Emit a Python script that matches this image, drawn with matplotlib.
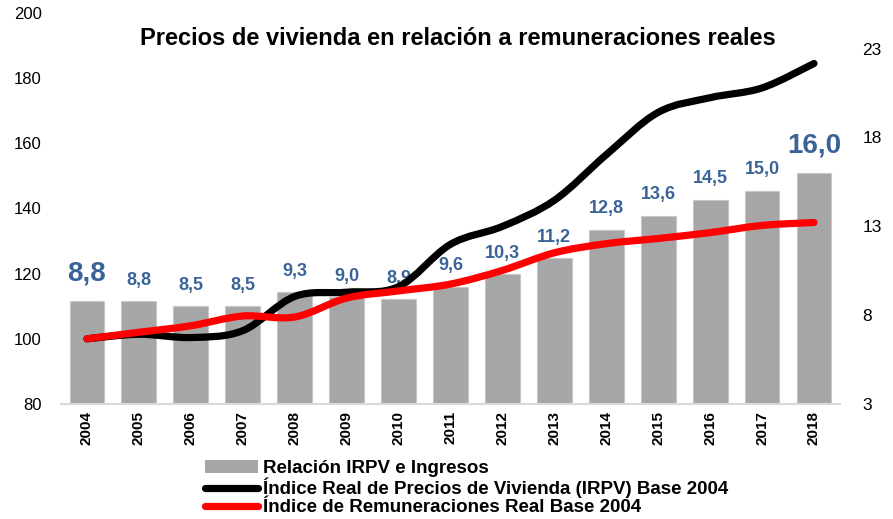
import matplotlib
matplotlib.use("Agg")
import matplotlib.pyplot as plt
from matplotlib.path import Path
from matplotlib.patches import PathPatch, Patch
from matplotlib.lines import Line2D
import numpy as np

plt.rcParams['font.family'] = ['Liberation Sans', 'DejaVu Sans']

# Data
years = ['2004', '2005', '2006', '2007', '2008', '2009', '2010', '2011',
         '2012', '2013', '2014', '2015', '2016', '2017', '2018']
ratio = [8.8, 8.8, 8.5, 8.5, 9.3, 9.0, 8.9, 9.6, 10.3, 11.2, 12.8, 13.6, 14.5, 15.0, 16.0]
irpv = [100, 101.4, 100.4, 102.5, 113, 114.3, 116, 129, 134.5, 142.5,
        156.5, 169.5, 174, 177, 184.5]
remun = [100, 102, 104, 107, 106.7, 112.5, 114.7, 116.8, 121, 126.4,
         129.2, 130.8, 132.6, 134.8, 135.7]
ratio_labels = ['8,8', '8,8', '8,5', '8,5', '9,3', '9,0', '8,9', '9,6', '10,3',
                '11,2', '12,8', '13,6', '14,5', '15,0', '16,0']

title = 'Precios de vivienda en relación a remuneraciones reales'
legend_labels = ['Relación IRPV e Ingresos',
                 'Índice Real de Precios de Vivienda (IRPV) Base 2004',
                 'Índice de Remuneraciones Real Base 2004']

BAR_COLOR = '#A6A6A6'
LABEL_COLOR = '#3A6398'


def smooth_path(xs, ys):
    # Excel-like smoothed line: Catmull-Rom segments as cubic Bezier curves
    pts = np.column_stack([xs, ys]).astype(float)
    ext = np.vstack([pts[0], pts, pts[-1]])
    verts = [pts[0]]
    codes = [Path.MOVETO]
    for i in range(len(pts) - 1):
        p0, p1, p2, p3 = ext[i], ext[i + 1], ext[i + 2], ext[i + 3]
        verts += [p1 + (p2 - p0) / 6, p2 - (p3 - p1) / 6, p2]
        codes += [Path.CURVE4] * 3
    return Path(verts, codes)


fig = plt.figure(figsize=(8.93, 5.19), dpi=100)
ax = fig.add_axes([0.0683, 0.2216, 0.8723, 0.7534])
axb = ax.twinx()

x = np.arange(len(years))

# bars on the secondary (right) axis
axb.bar(x, ratio, width=0.67, color=BAR_COLOR, edgecolor='#C8C8C8', linewidth=0.8, zorder=2)
axb.set_ylim(3, 25)
axb.set_yticks([3, 8, 13, 18, 23])
for i, (v, lab) in enumerate(zip(ratio, ratio_labels)):
    big = i in (0, len(ratio) - 1)
    axb.annotate(lab, (x[i], v), xytext=(0, 20 if big else 15), textcoords='offset points',
                 ha='center', va='center', fontsize=20 if big else 13,
                 fontweight='bold', color=LABEL_COLOR)

# smoothed index lines on the primary (left) axis
for series, col in [(irpv, 'black'), (remun, '#FF0000')]:
    ax.add_patch(PathPatch(smooth_path(x, series), facecolor='none', edgecolor=col,
                           linewidth=5.2, capstyle='round', joinstyle='round', zorder=3))

ax.set_xlim(-0.5, len(years) - 0.5)
ax.set_ylim(80, 200)
ax.set_yticks(range(80, 201, 20))
ax.set_xticks(x)
ax.set_xticklabels(years, rotation=90, fontweight='bold', fontsize=11)

ax.set_zorder(axb.get_zorder() + 1)
ax.patch.set_visible(False)

for a in (ax, axb):
    for s in a.spines.values():
        s.set_visible(False)
    a.tick_params(length=0)
ax.spines['bottom'].set_visible(True)
ax.spines['bottom'].set_color('#D9D9D9')
ax.spines['bottom'].set_linewidth(1.5)
ax.tick_params(axis='y', labelsize=12, pad=14)
ax.tick_params(axis='x', pad=5)
axb.tick_params(axis='y', labelsize=12.5, pad=16)

fig.text(0.513, 0.925, title, ha='center', va='center', fontsize=17, fontweight='bold')

handles = [Patch(facecolor=BAR_COLOR, edgecolor='none'),
           Line2D([], [], color='black', linewidth=5.2, solid_capstyle='round'),
           Line2D([], [], color='#FF0000', linewidth=5.2, solid_capstyle='round')]
fig.legend(handles, legend_labels, loc='center left', bbox_to_anchor=(0.23, 0.0597),
           frameon=False, handlelength=2.8, handletextpad=0.25, labelspacing=0.05,
           borderpad=0, borderaxespad=0, prop={'weight': 'bold', 'size': 13.5})

fig.savefig('out.png', dpi=100)
